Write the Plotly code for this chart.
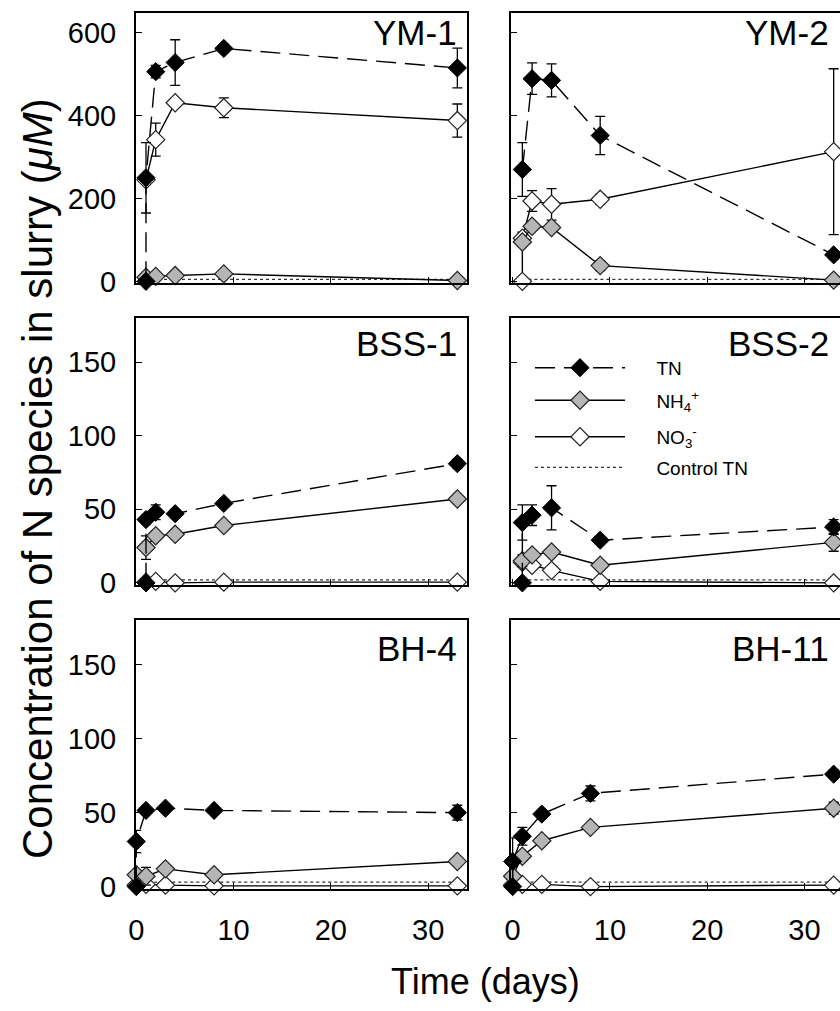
import plotly.graph_objects as go

# ---------------- data (days, µM) ----------------
t_ym = [1, 2, 4, 9, 33]
t_ym_tn = [1, 1, 2, 4, 9, 33]
t_bh = [0, 1, 3, 8, 33]
t_bh_tn = [0, 0, 1, 3, 8, 33]

# YM-1
ym1_tn = [0, 250, 506, 528, 562, 515]
ym1_tn_err = [0, 85, 15, 55, 10, 48]
ym1_nh4 = [10, 12, 14, 18, 2]
ym1_nh4_err = [2, 2, 2, 3, 2]
ym1_no3 = [245, 342, 431, 419, 388]
ym1_no3_err = [0, 40, 8, 24, 40]
ym1_ctrl = [5, 5, 5, 5, 5]

# YM-2
ym2_tn = [270, 489, 485, 352, 64]
ym2_tn_err = [65, 38, 40, 46, 10]
ym2_nh4 = [95, 133, 130, 38, 3]
ym2_nh4_err = [0, 8, 8, 12, 2]
ym2_no3 = [0, 104, 194, 186, 198, 313]
ym2_no3_err = [0, 15, 25, 38, 12, 200]
ym2_ctrl = [5, 5, 5, 5, 5]

# BSS-1
bss1_tn = [0, 43, 48, 47, 54, 81]
bss1_tn_err = [0, 3, 5, 3, 2, 3]
bss1_nh4 = [24, 32, 33, 39, 57]
bss1_nh4_err = [8, 3, 2, 2, 2]
bss1_no3 = [0.5, 1, 0, 0.5, 0.5]
bss1_no3_err = [0, 0, 0, 0, 0]
bss1_ctrl = [2, 2, 2, 2, 2]

# BSS-2
bss2_tn = [0, 41, 46, 51, 29, 38]
bss2_tn_err = [0, 12, 7, 15, 2, 5]
bss2_nh4 = [15, 19, 21, 12, 27.5]
bss2_nh4_err = [4, 3, 2, 2, 6]
bss2_no3 = [14, 12, 8.5, 1, 0]
bss2_no3_err = [3, 2, 2, 1, 0]
bss2_ctrl = [2, 2, 2, 2, 2]

# BH-4
bh4_tn = [0, 30.5, 51.5, 53, 51.5, 50]
bh4_tn_err = [0, 7.5, 2, 2, 2, 5]
bh4_nh4 = [8, 7, 12, 8, 17]
bh4_nh4_err = [3, 6, 2, 2, 2]
bh4_no3 = [1, 1.5, 1, 0.5, 0.5]
bh4_no3_err = [0, 0, 0, 0, 0]
bh4_ctrl = [3, 3, 3, 3, 3]

# BH-11
bh11_tn = [0, 17, 34, 49, 63, 76]
bh11_tn_err = [0, 16, 6, 2, 5, 3]
bh11_nh4 = [7, 20.5, 31, 40, 53]
bh11_nh4_err = [2, 3, 2, 2, 4]
bh11_no3 = [1, 1.5, 1.5, 0, 1]
bh11_no3_err = [0, 0, 0, 0, 0]
bh11_ctrl = [3, 3, 3, 3, 3]

panel_names = ["YM-1", "YM-2", "BSS-1", "BSS-2", "BH-4", "BH-11"]
y_ticks_top = [0, 200, 400, 600]
y_ticks_low = [0, 50, 100, 150]
x_ticks = [0, 10, 20, 30]

panels = [
    dict(tn_t=t_ym_tn, tn=ym1_tn, tn_e=ym1_tn_err, t=t_ym, nh4=ym1_nh4, nh4_e=ym1_nh4_err,
         no3_t=t_ym, no3=ym1_no3, no3_e=ym1_no3_err, ctrl=ym1_ctrl),
    dict(tn_t=t_ym, tn=ym2_tn, tn_e=ym2_tn_err, t=t_ym, nh4=ym2_nh4, nh4_e=ym2_nh4_err,
         no3_t=t_ym_tn, no3=ym2_no3, no3_e=ym2_no3_err, ctrl=ym2_ctrl),
    dict(tn_t=t_ym_tn, tn=bss1_tn, tn_e=bss1_tn_err, t=t_ym, nh4=bss1_nh4, nh4_e=bss1_nh4_err,
         no3_t=t_ym, no3=bss1_no3, no3_e=bss1_no3_err, ctrl=bss1_ctrl),
    dict(tn_t=t_ym_tn, tn=bss2_tn, tn_e=bss2_tn_err, t=t_ym, nh4=bss2_nh4, nh4_e=bss2_nh4_err,
         no3_t=t_ym, no3=bss2_no3, no3_e=bss2_no3_err, ctrl=bss2_ctrl),
    dict(tn_t=t_bh_tn, tn=bh4_tn, tn_e=bh4_tn_err, t=t_bh, nh4=bh4_nh4, nh4_e=bh4_nh4_err,
         no3_t=t_bh, no3=bh4_no3, no3_e=bh4_no3_err, ctrl=bh4_ctrl),
    dict(tn_t=t_bh_tn, tn=bh11_tn, tn_e=bh11_tn_err, t=t_bh, nh4=bh11_nh4, nh4_e=bh11_nh4_err,
         no3_t=t_bh, no3=bh11_no3, no3_e=bh11_no3_err, ctrl=bh11_ctrl),
]

FONT = "Liberation Sans, Arial, sans-serif"
W, H = 840, 1011

def px(x):
    return x / W

def py(y):
    return 1 - y / H

col_dom = [[px(129), px(463)], [px(508), 1.0]]
col_rng = [[-0.05, 33.95], [-0.15, 33.65]]
row_dom = [[py(287), py(13)], [py(593), py(322)], [py(901), py(629)]]
row_rng = [[-4, 648], [-1.3, 180.3], [-1.3, 180.0]]

fig = go.Figure()

marker_line = dict(color="#222222", width=1.2)
err_style = dict(type="data", color="black", thickness=1.3, width=5, visible=True)
PAD = "\u00a0" * 5

for i, p in enumerate(panels):
    ax = "" if i == 0 else str(i + 1)
    xa, ya = "x" + ax, "y" + ax
    show = (i == 3)
    # control TN
    fig.add_trace(go.Scatter(
        x=p["t"], y=p["ctrl"], xaxis=xa, yaxis=ya, mode="lines",
        line=dict(color="#333333", width=1.2, dash="dot"),
        name=PAD + "Control TN", showlegend=show, legend="legend4"))
    # NO3-
    fig.add_trace(go.Scatter(
        x=p["no3_t"], y=p["no3"], xaxis=xa, yaxis=ya, mode="lines+markers",
        line=dict(color="black", width=1.4),
        marker=dict(symbol="diamond", size=14, color="white", line=marker_line),
        error_y=dict(array=p["no3_e"], **err_style), cliponaxis=False,
        name=PAD + "NO<sub>3</sub><sup>-</sup>", showlegend=show, legend="legend3"))
    # NH4+
    fig.add_trace(go.Scatter(
        x=p["t"], y=p["nh4"], xaxis=xa, yaxis=ya, mode="lines+markers",
        line=dict(color="black", width=1.4),
        marker=dict(symbol="diamond", size=14, color="#b5b5b5", line=marker_line),
        error_y=dict(array=p["nh4_e"], **err_style), cliponaxis=False,
        name=PAD + "NH<sub>4</sub><sup>+</sup>", showlegend=show, legend="legend2"))
    # TN
    fig.add_trace(go.Scatter(
        x=p["tn_t"], y=p["tn"], xaxis=xa, yaxis=ya, mode="lines+markers",
        line=dict(color="black", width=1.4, dash="20px,9px"),
        marker=dict(symbol="diamond", size=14, color="black", line=dict(color="black", width=1)),
        error_y=dict(array=p["tn_e"], **err_style), cliponaxis=False,
        name=PAD + "TN", showlegend=show, legend="legend"))

layout = dict(
    width=W, height=H, margin=dict(l=0, r=0, t=0, b=0),
    paper_bgcolor="white", plot_bgcolor="white",
    font=dict(family=FONT, color="black"),
)

for i in range(6):
    r, c = divmod(i, 2)
    ax = "" if i == 0 else str(i + 1)
    yt = y_ticks_top if r == 0 else y_ticks_low
    layout["xaxis" + ax] = dict(
        domain=col_dom[c], range=col_rng[c], anchor="y" + ax,
        showline=True, linecolor="black", linewidth=1.5, mirror=True,
        ticks="inside", ticklen=6, tickwidth=1.2, tickcolor="black",
        tickvals=x_ticks, showticklabels=(r == 2),
        tickfont=dict(size=29, family=FONT), ticklabelstandoff=15,
        showgrid=False, zeroline=False, fixedrange=True)
    layout["yaxis" + ax] = dict(
        domain=row_dom[r], range=row_rng[r], anchor="x" + ax,
        showline=True, linecolor="black", linewidth=1.5, mirror=(c == 0),
        ticks="inside", ticklen=6, tickwidth=1.2, tickcolor="black",
        tickvals=yt, showticklabels=(c == 0),
        tickfont=dict(size=29, family=FONT), ticklabelstandoff=12,
        showgrid=False, zeroline=False, fixedrange=True)

leg_common = dict(xanchor="left", yanchor="middle", bgcolor="rgba(0,0,0,0)",
                  borderwidth=0, itemwidth=90, font=dict(size=19, family=FONT),
                  itemclick=False, itemdoubleclick=False)
layout["legend"] = dict(x=px(527), y=py(373), **leg_common)
layout["legend2"] = dict(x=px(527), y=py(406), **leg_common)
layout["legend3"] = dict(x=px(527), y=py(443), **leg_common)
layout["legend4"] = dict(x=px(527), y=py(474), **leg_common)

ann = []
label_pos = [(455, 33), (831, 33), (455, 348), (831, 348), (455, 658), (831, 658)]
for name, (lx, ly) in zip(panel_names, label_pos):
    ann.append(dict(text=name, x=px(lx), y=py(ly), xref="paper", yref="paper",
                    xanchor="right", yanchor="middle", showarrow=False,
                    font=dict(size=35, family=FONT)))
ann.append(dict(text="Concentration of N species in slurry (<i>μM</i>)",
                x=px(30), y=py(485), xref="paper", yref="paper", textangle=-90,
                xanchor="center", yanchor="middle", showarrow=False,
                font=dict(size=42, family=FONT)))
ann.append(dict(text="Time (days)", x=px(482), y=py(995), xref="paper", yref="paper",
                xanchor="center", yanchor="middle", showarrow=False,
                font=dict(size=36, family=FONT)))
layout["annotations"] = ann

fig.update_layout(**layout)
fig.write_html("out.html",
               config={"displayModeBar": False},
               post_script="document.body.style.margin='0px';"
                           "document.body.style.overflow='hidden';")
